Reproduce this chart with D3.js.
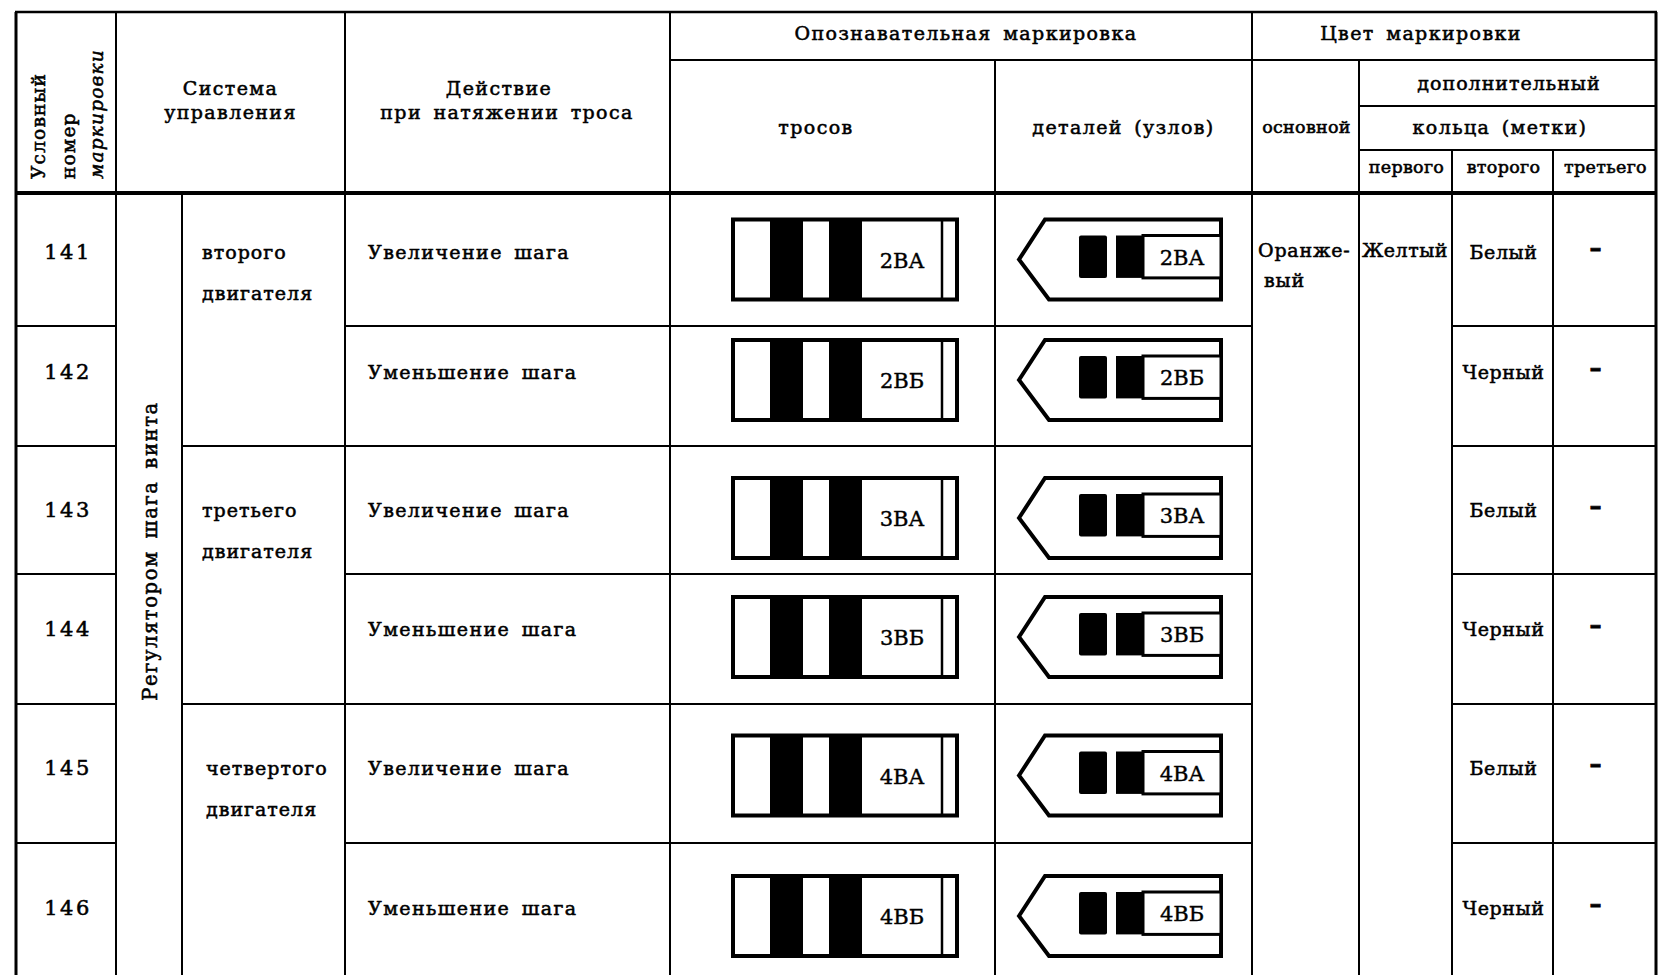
<!DOCTYPE html>
<html><head><meta charset="utf-8">
<script src="https://cdn.jsdelivr.net/npm/d3@7"></script>
<style>html,body{margin:0;padding:0;background:#fff;} svg{display:block;}</style>
</head><body>
<svg id="c" width="1659" height="975"></svg>
<script>
// ---------- DATA ----------
const codes = ["141","142","143","144","145","146"];
const actions = ["Увеличение шага","Уменьшение шага","Увеличение шага","Уменьшение шага","Увеличение шага","Уменьшение шага"];
const engineGroups = ["второго","третьего","четвертого"];
const engineWord = "двигателя";
const systemLabel = "Регулятором шага винта";
const cableMarks = ["2ВА","2ВБ","3ВА","3ВБ","4ВА","4ВБ"];
const partMarks = ["2ВА","2ВБ","3ВА","3ВБ","4ВА","4ВБ"];
const mainColor = ["Оранже-","вый"];
const firstRing = ["Желтый"];
const secondRing = ["Белый","Черный","Белый","Черный","Белый","Черный"];
const thirdRing = ["–","–","–","–","–","–"];
const headCode = ["Условный","номер","маркировки"];
const headSystem = ["Система","управления"];
const headAction = ["Действие","при натяжении троса"];
const headMarking = ["Опознавательная маркировка","тросов","деталей (узлов)"];
const headColor = ["Цвет маркировки","основной","дополнительный","кольца (метки)"];
const headRings = ["первого","второго","третьего"];

// ---------- LAYOUT ----------
const colEdges = [16,116,182,345,670,995,1252,1359,1452,1553,1656];
const rowEdges = [193,326,446,574,704,843,975];
const headEdges = [12,60,106,150,193];
const contentShift = [0,-6,8,-2,2,7];
const FONT = "'DejaVu Serif', serif";
const MARKFONT = "'DejaVu Serif', serif";

const x = d3.scaleLinear().domain(d3.range(colEdges.length)).range(colEdges);
const y = d3.scaleLinear().domain(d3.range(rowEdges.length)).range(rowEdges);
const hy = d3.scaleLinear().domain(d3.range(headEdges.length)).range(headEdges);
const svg = d3.select("#c");
const bottom = 975;

function T(str, px, py, o={}) {
  const t = svg.append("text").attr("x", px).attr("y", py)
    .attr("font-family", o.family || FONT)
    .attr("font-size", o.size || 19)
    .attr("font-weight", o.weight || "normal")
    .attr("text-anchor", o.anchor || "start")
    .attr("letter-spacing", o.ls != null ? o.ls : 1.4)
    .attr("word-spacing", o.ws != null ? o.ws : 4)
    .attr("fill", "#000")
    .attr("stroke", "#000").attr("stroke-width", o.sw != null ? o.sw : 0.55)
    .text(str);
  if (o.italic) t.attr("font-style", "italic");
  if (o.rotate) t.attr("transform", `rotate(-90 ${px} ${py})`);
  return t;
}

// ---------- GRID ----------
const hSegs = [
  {y: hy(0), x1: x(0), x2: x(10), w: 2.5},
  {y: hy(1), x1: x(4), x2: x(10), w: 2},
  {y: hy(2), x1: x(7), x2: x(10), w: 2},
  {y: hy(3), x1: x(7), x2: x(10), w: 2},
  {y: hy(4), x1: x(0), x2: x(10), w: 4}
];
for (let i = 1; i < codes.length; i++) {
  hSegs.push({y: y(i), x1: x(0), x2: x(1), w: 2});
  hSegs.push({y: y(i), x1: x(3), x2: x(6), w: 2});
  hSegs.push({y: y(i), x1: x(8), x2: x(10), w: 2});
  if (i % 2 === 0) hSegs.push({y: y(i), x1: x(2), x2: x(3), w: 2});
}
const vSegs = [
  {x: x(0), y1: hy(0), w: 3}, {x: x(1), y1: hy(0), w: 2}, {x: x(2), y1: hy(4), w: 2},
  {x: x(3), y1: hy(0), w: 2}, {x: x(4), y1: hy(0), w: 2}, {x: x(5), y1: hy(1), w: 2},
  {x: x(6), y1: hy(0), w: 2}, {x: x(7), y1: hy(1), w: 2}, {x: x(8), y1: hy(3), w: 2},
  {x: x(9), y1: hy(3), w: 2}, {x: x(10), y1: hy(0), w: 3}
];
svg.append("g").selectAll("line").data(hSegs).join("line")
  .attr("x1", d => d.x1 - 1).attr("x2", d => d.x2 + 1).attr("y1", d => d.y).attr("y2", d => d.y)
  .attr("stroke", "#000").attr("stroke-width", d => d.w);
svg.append("g").selectAll("line").data(vSegs).join("line")
  .attr("x1", d => d.x).attr("x2", d => d.x).attr("y1", d => d.y1).attr("y2", bottom)
  .attr("stroke", "#000").attr("stroke-width", d => d.w);

// ---------- HEADER ----------
T(headCode[0], 45, 179, {rotate: true, size: 18.5, ls: 1.2});
T(headCode[1], 75, 179, {rotate: true, size: 18.5, ls: 1.2});
T(headCode[2], 103, 179, {rotate: true, size: 18.5, italic: true, ls: 1.2});
T(headSystem[0], (x(1)+x(3))/2, 95, {anchor: "middle"});
T(headSystem[1], (x(1)+x(3))/2, 119, {anchor: "middle"});
T(headAction[0], 499, 95, {anchor: "middle"});
T(headAction[1], 507, 119, {anchor: "middle"});
T(headMarking[0], 966, 40, {anchor: "middle"});
T(headMarking[1], 816, 134, {anchor: "middle"});
T(headMarking[2], (x(5)+x(6))/2, 134, {anchor: "middle"});
T(headColor[0], 1421, 40, {anchor: "middle"});
T(headColor[1], (x(6)+x(7))/2 + 1, 133, {anchor: "middle", size: 17.5, ls: 0.3});
T(headColor[2], 1509, 90, {anchor: "middle", ls: 1});
T(headColor[3], 1500, 134, {anchor: "middle"});
headRings.forEach((r, i) => T(r, (x(7+i)+x(8+i))/2 + 1, 173, {anchor: "middle", size: 17.5, ls: 0.3}));

// ---------- BODY ----------
const cy = i => (y(i) + y(i+1)) / 2 + contentShift[i];
const base = i => cy(i) - 1;

codes.forEach((c, i) => T(c, (x(0)+x(1))/2 + 2, base(i), {anchor: "middle", size: 21, ls: 2.5}));
T(systemLabel, 157, (y(0)+y(6))/2 - 33, {rotate: true, anchor: "middle", size: 19.5, ls: 1.6});
engineGroups.forEach((e, g) => {
  T(e, x(2) + 20 + (g === 2 ? 4 : 0), base(g*2), {ls: 1});
  T(engineWord, x(2) + 20 + (g === 2 ? 4 : 0), base(g*2) + 41, {ls: 1});
});
actions.forEach((a, i) => T(a, x(3) + 23, base(i)));
T(mainColor[0], x(6) + 6, base(0) - 2, {ls: 0.8});
T(mainColor[1], x(6) + 12, base(0) + 28, {ls: 0.8});
T(firstRing[0], x(7) + 3, base(0) - 2, {ls: 0.5});
secondRing.forEach((s, i) => T(s, (x(8)+x(9))/2 + 1, base(i), {anchor: "middle", ls: 0.6}));
thirdRing.forEach((s, i) => T(s, (x(9)+x(10))/2 - 9, base(i) - 3, {anchor: "middle", size: 24, weight: "bold", ls: 0, sw: 0.8}));

// cable markings
const RH = 80;
cableMarks.forEach((m, i) => {
  const g = svg.append("g").attr("transform", `translate(${x(4) + 63},${cy(i) - RH/2})`);
  g.append("rect").attr("x", 0).attr("y", 0).attr("width", 224).attr("height", RH)
    .attr("fill", "#fff").attr("stroke", "#000").attr("stroke-width", 4);
  g.append("rect").attr("x", 37).attr("y", 0).attr("width", 33).attr("height", RH).attr("fill", "#000");
  g.append("rect").attr("x", 96).attr("y", 0).attr("width", 33).attr("height", RH).attr("fill", "#000");
  g.append("line").attr("x1", 209).attr("x2", 209).attr("y1", 0).attr("y2", RH)
    .attr("stroke", "#000").attr("stroke-width", 2.5);
  g.append("text").attr("x", 169).attr("y", RH/2 + 8).attr("text-anchor", "middle")
    .attr("font-family", MARKFONT).attr("font-size", 21)
    .attr("stroke", "#000").attr("stroke-width", 0.4).text(m);
});

// part (detail) markings — tag shapes
partMarks.forEach((m, i) => {
  const tip = x(5) + 24;
  const g = svg.append("g").attr("transform", `translate(${tip},${cy(i) - RH/2})`);
  g.append("path").attr("d", `M0,${RH/2} L26,0 L202,0 L202,${RH} L30,${RH} Z`)
    .attr("fill", "#fff").attr("stroke", "#000").attr("stroke-width", 4).attr("stroke-linejoin", "miter");
  const by0 = RH * 0.2, bh = RH * 0.53;
  g.append("rect").attr("x", 60).attr("y", by0).attr("width", 28).attr("height", bh).attr("rx", 2).attr("fill", "#000");
  g.append("rect").attr("x", 97).attr("y", by0).attr("width", 28).attr("height", bh).attr("fill", "#000");
  g.append("rect").attr("x", 124).attr("y", by0).attr("width", 78).attr("height", bh)
    .attr("fill", "#fff").attr("stroke", "#000").attr("stroke-width", 3);
  g.append("text").attr("x", 163).attr("y", by0 + bh/2 + 8).attr("text-anchor", "middle")
    .attr("font-family", MARKFONT).attr("font-size", 21)
    .attr("stroke", "#000").attr("stroke-width", 0.4).text(m);
});
</script>
</body></html>
